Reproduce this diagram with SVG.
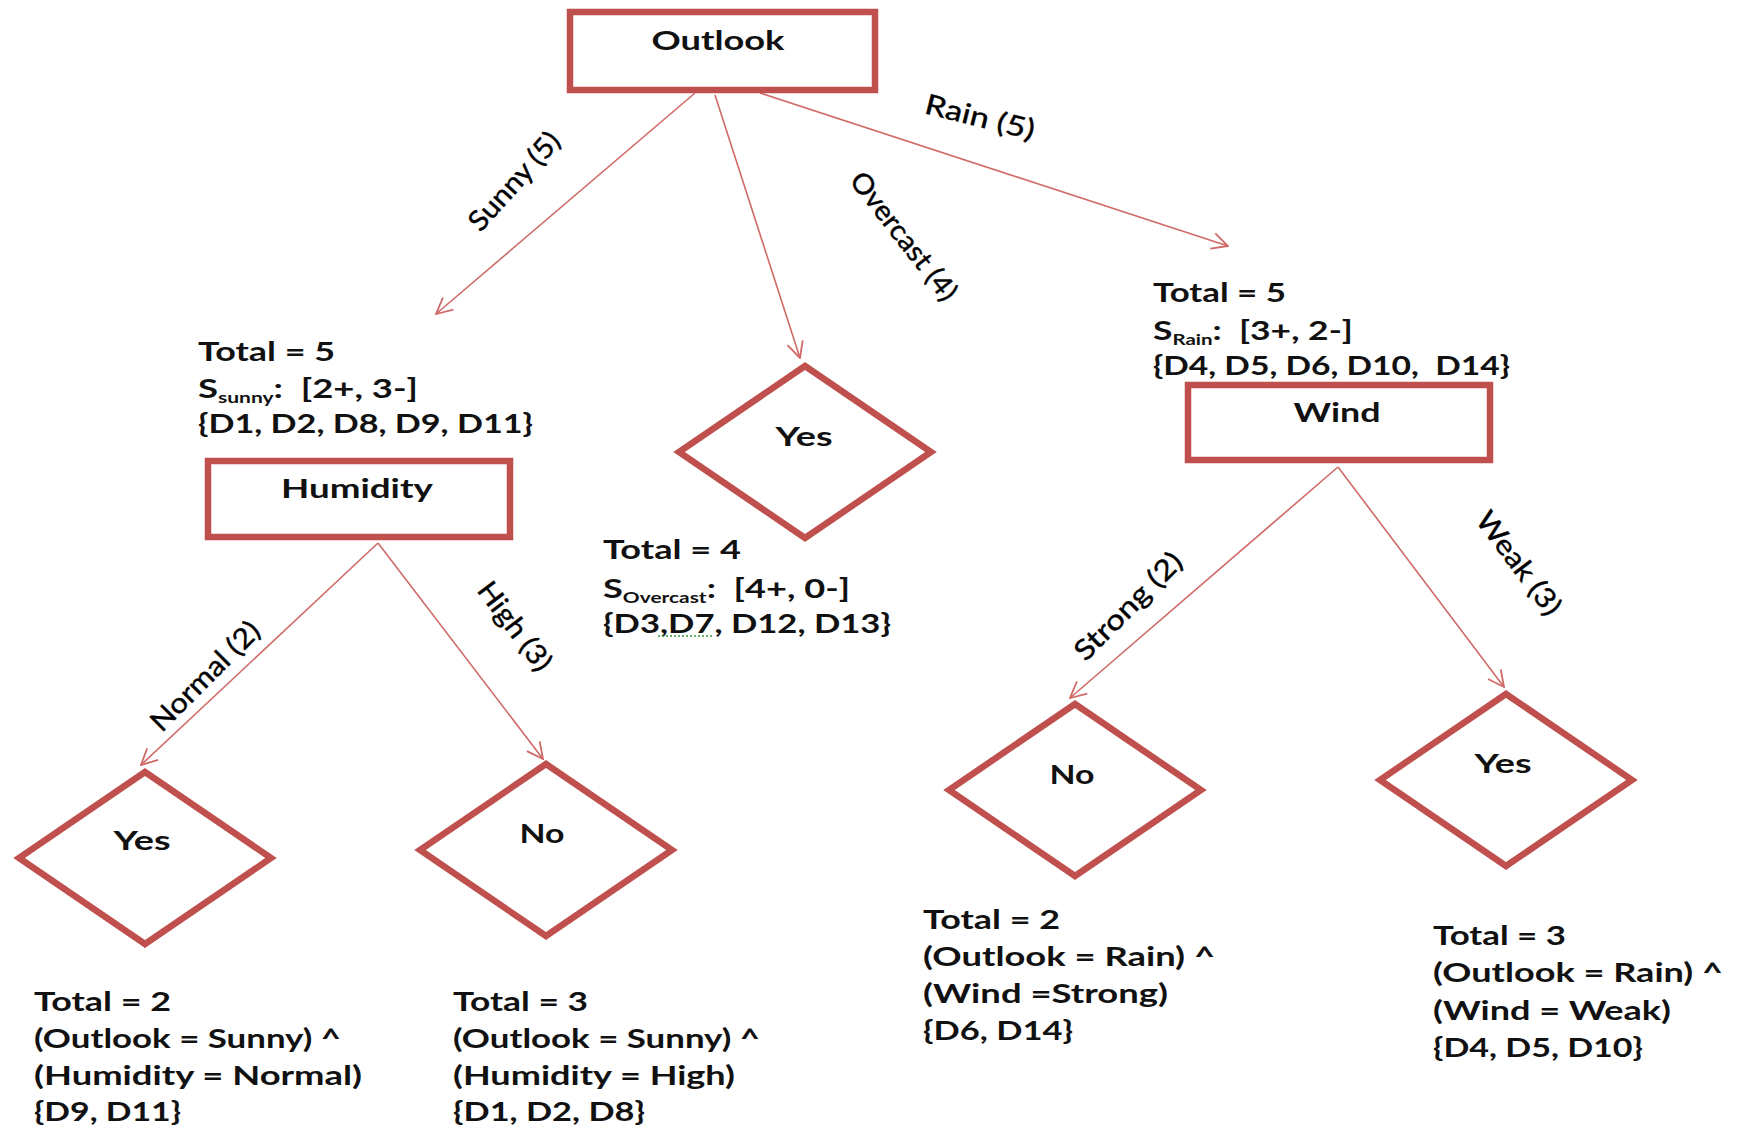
<svg xmlns="http://www.w3.org/2000/svg" width="1738" height="1130" viewBox="0 0 1738 1130">
<style>
.box{fill:#fff;stroke:#C0504D;stroke-width:6.5;stroke-linejoin:miter}
.edge{fill:none;stroke:#D06A68;stroke-width:1.6}
.lbl{font-family:Lato,"Open Sans","Liberation Sans",sans-serif;font-weight:bold;font-size:26px;fill:#111;text-anchor:middle}
.t{font-family:Lato,"Open Sans","Liberation Sans",sans-serif;font-weight:bold;font-size:26px;fill:#111}
.sub{font-size:15px}
.el{font-family:Lato,"Open Sans","Liberation Sans",sans-serif;font-size:28px;fill:#000;text-anchor:middle;stroke:#000;stroke-width:0.4}
</style>
<defs>
<marker id="arr" viewBox="0 0 20 20" refX="19" refY="10" markerWidth="20" markerHeight="20" markerUnits="userSpaceOnUse" orient="auto">
<path d="M3,2 L19,10 L3,18" fill="none" stroke="#D06A68" stroke-width="1.8"/>
</marker>
</defs>
<rect width="1738" height="1130" fill="#fff"/>

<g id="connectors">
<line class="edge" x1="695" y1="93" x2="436" y2="314" marker-end="url(#arr)"/>
<line class="edge" x1="715" y1="95" x2="800" y2="358" marker-end="url(#arr)"/>
<line class="edge" x1="760" y1="93" x2="1228" y2="246" marker-end="url(#arr)"/>
<line class="edge" x1="378" y1="543" x2="141" y2="765" marker-end="url(#arr)"/>
<line class="edge" x1="378" y1="543" x2="543" y2="759" marker-end="url(#arr)"/>
<line class="edge" x1="1338" y1="467" x2="1070" y2="698" marker-end="url(#arr)"/>
<line class="edge" x1="1338" y1="467" x2="1504" y2="687" marker-end="url(#arr)"/>
<text class="el" transform="translate(514,181) rotate(-48)" dy="0.35em" textLength="122" lengthAdjust="spacingAndGlyphs">Sunny (5)</text>
<text class="el" transform="translate(904,236) rotate(52)" dy="0.35em" textLength="155" lengthAdjust="spacingAndGlyphs">Overcast (4)</text>
<text class="el" transform="translate(980,117) rotate(14)" dy="0.35em" textLength="112" lengthAdjust="spacingAndGlyphs">Rain (5)</text>
<text class="el" transform="translate(205,676) rotate(-45)" dy="0.35em" textLength="142" lengthAdjust="spacingAndGlyphs">Normal (2)</text>
<text class="el" transform="translate(515,626) rotate(53)" dy="0.35em" textLength="104" lengthAdjust="spacingAndGlyphs">High (3)</text>
<text class="el" transform="translate(1128,606) rotate(-45)" dy="0.35em" textLength="140" lengthAdjust="spacingAndGlyphs">Strong (2)</text>
<text class="el" transform="translate(1519,563) rotate(53)" dy="0.35em" textLength="122" lengthAdjust="spacingAndGlyphs">Weak (3)</text>
</g>

<g id="outlook">
<rect class="box" x="570" y="12" width="305" height="78"/>
<text class="lbl" x="718" y="50" textLength="133" lengthAdjust="spacingAndGlyphs">Outlook</text>
</g>

<g id="humidity">
<rect class="box" x="208" y="461" width="302" height="76"/>
<text class="lbl" x="357" y="498" textLength="152" lengthAdjust="spacingAndGlyphs">Humidity</text>
</g>

<g id="wind">
<rect class="box" x="1188" y="385" width="302" height="75"/>
<text class="lbl" x="1337" y="422" textLength="87" lengthAdjust="spacingAndGlyphs">Wind</text>
</g>

<g id="yes-overcast">
<polygon class="box" points="805,366 931,452 805,538 679,452"/>
<text class="lbl" x="804" y="446" textLength="57" lengthAdjust="spacingAndGlyphs">Yes</text>
</g>

<g id="yes-normal">
<polygon class="box" points="145,772 271,858 145,944 19,858"/>
<text class="lbl" x="142" y="850" textLength="57" lengthAdjust="spacingAndGlyphs">Yes</text>
</g>

<g id="no-high">
<polygon class="box" points="546,764 672,850 546,936 420,850"/>
<text class="lbl" x="542" y="843" textLength="45" lengthAdjust="spacingAndGlyphs">No</text>
</g>

<g id="no-strong">
<polygon class="box" points="1075,704 1201,790 1075,876 949,790"/>
<text class="lbl" x="1072" y="784" textLength="45" lengthAdjust="spacingAndGlyphs">No</text>
</g>

<g id="yes-weak">
<polygon class="box" points="1506,694 1632,780 1506,866 1380,780"/>
<text class="lbl" x="1503" y="773" textLength="57" lengthAdjust="spacingAndGlyphs">Yes</text>
</g>

<g id="info-sunny">
<text class="t" x="198" y="361" textLength="137" lengthAdjust="spacingAndGlyphs">Total = 5</text>
<text class="t" x="198" y="398" textLength="220" lengthAdjust="spacingAndGlyphs">S<tspan class="sub" dy="5">sunny</tspan><tspan dy="-5">:&#160; [2+, 3-]</tspan></text>
<text class="t" x="198" y="433" textLength="335" lengthAdjust="spacingAndGlyphs">{D1, D2, D8, D9, D11}</text>
</g>

<g id="info-overcast">
<text class="t" x="603" y="559" textLength="138" lengthAdjust="spacingAndGlyphs">Total = 4</text>
<text class="t" x="603" y="598" textLength="247" lengthAdjust="spacingAndGlyphs">S<tspan class="sub" dy="5">Overcast</tspan><tspan dy="-5">:&#160; [4+, 0-]</tspan></text>
<text class="t" x="603" y="633" textLength="288" lengthAdjust="spacingAndGlyphs">{D3,D7, D12, D13}</text>
<line x1="658" y1="636" x2="713" y2="636" stroke="#3A9A3A" stroke-width="1.5" stroke-dasharray="2,2"/>
</g>

<g id="info-rain">
<text class="t" x="1153" y="302" textLength="133" lengthAdjust="spacingAndGlyphs">Total = 5</text>
<text class="t" x="1153" y="340" textLength="200" lengthAdjust="spacingAndGlyphs">S<tspan class="sub" dy="5">Rain</tspan><tspan dy="-5">:&#160; [3+, 2-]</tspan></text>
<text class="t" x="1153" y="375" textLength="357" lengthAdjust="spacingAndGlyphs">{D4, D5, D6, D10,&#160; D14}</text>
</g>

<g id="info-normal">
<text class="t" x="34" y="1011" textLength="137" lengthAdjust="spacingAndGlyphs">Total = 2</text>
<text class="t" x="34" y="1048" textLength="307" lengthAdjust="spacingAndGlyphs">(Outlook = Sunny) ^</text>
<text class="t" x="34" y="1085" textLength="328" lengthAdjust="spacingAndGlyphs">(Humidity = Normal)</text>
<text class="t" x="34" y="1121" textLength="147" lengthAdjust="spacingAndGlyphs">{D9, D11}</text>
</g>

<g id="info-high">
<text class="t" x="453" y="1011" textLength="135" lengthAdjust="spacingAndGlyphs">Total = 3</text>
<text class="t" x="453" y="1048" textLength="307" lengthAdjust="spacingAndGlyphs">(Outlook = Sunny) ^</text>
<text class="t" x="453" y="1085" textLength="282" lengthAdjust="spacingAndGlyphs">(Humidity = High)</text>
<text class="t" x="453" y="1121" textLength="192" lengthAdjust="spacingAndGlyphs">{D1, D2, D8}</text>
</g>

<g id="info-strong">
<text class="t" x="923" y="929" textLength="137" lengthAdjust="spacingAndGlyphs">Total = 2</text>
<text class="t" x="923" y="966" textLength="292" lengthAdjust="spacingAndGlyphs">(Outlook = Rain) ^</text>
<text class="t" x="923" y="1003" textLength="245" lengthAdjust="spacingAndGlyphs">(Wind =Strong)</text>
<text class="t" x="923" y="1040" textLength="150" lengthAdjust="spacingAndGlyphs">{D6, D14}</text>
</g>

<g id="info-weak">
<text class="t" x="1433" y="945" textLength="133" lengthAdjust="spacingAndGlyphs">Total = 3</text>
<text class="t" x="1433" y="982" textLength="290" lengthAdjust="spacingAndGlyphs">(Outlook = Rain) ^</text>
<text class="t" x="1433" y="1020" textLength="238" lengthAdjust="spacingAndGlyphs">(Wind = Weak)</text>
<text class="t" x="1433" y="1057" textLength="210" lengthAdjust="spacingAndGlyphs">{D4, D5, D10}</text>
</g>
</svg>
